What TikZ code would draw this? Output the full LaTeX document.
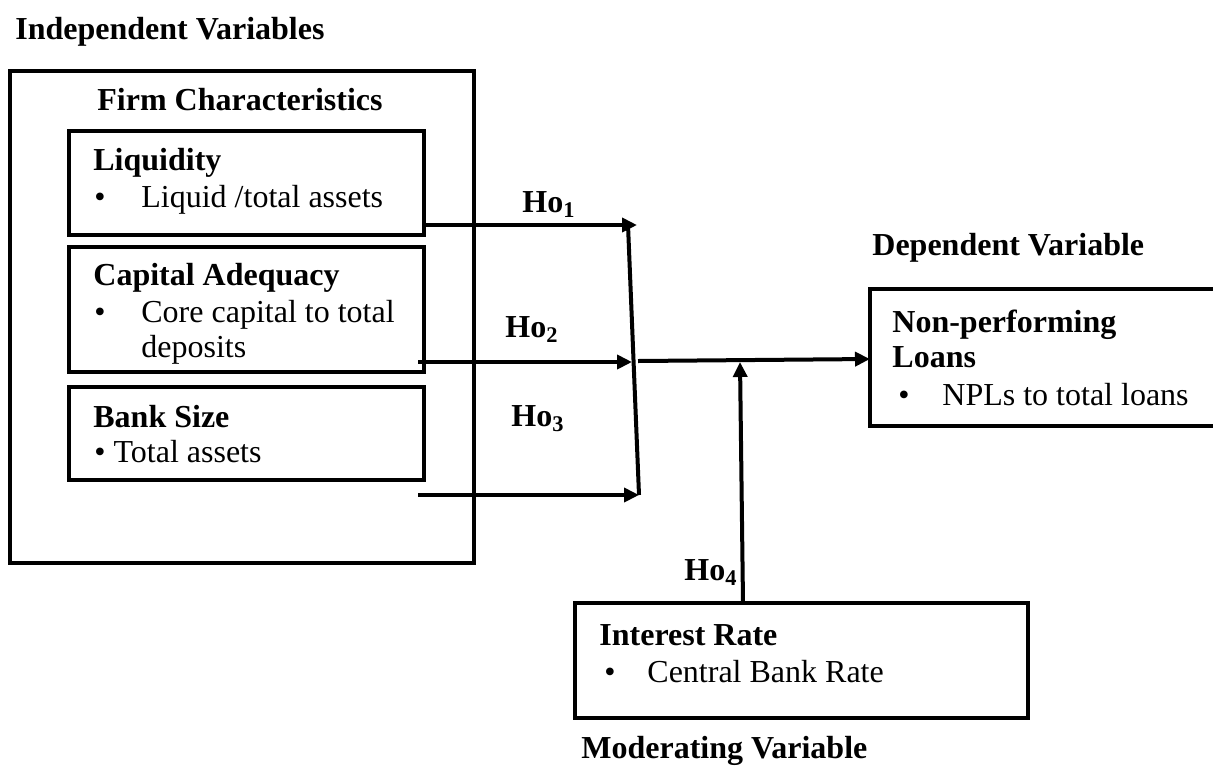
\documentclass[tikz,border=0pt]{standalone}
\usepackage{fontspec}
\setmainfont{Liberation Serif}
\usetikzlibrary{positioning,arrows.meta,calc}

\begin{document}
\begin{tikzpicture}[x=0.5pt,y=-0.5pt,
    box/.style={draw, line width=2pt, rectangle, inner sep=0pt, outer sep=0pt, anchor=north west},
    txt/.style={anchor=base west, inner sep=0pt, font=\fontsize{16}{18}\selectfont},
    head/.style={anchor=base west, inner sep=0pt, font=\fontsize{16}{18}\selectfont\bfseries},
    link/.style={line width=2pt, -{Triangle[length=7.5pt,width=7pt]}},
    ]
  \useasboundingbox (0,0) rectangle (1213,766);

  % boxes
  \node[box, minimum width=232pt, minimum height=246pt] (firm) at (10,71) {};
  \node[box, minimum width=177.5pt, minimum height=52pt] (liq) at (69,131) {};
  \node[box, minimum width=177.5pt, minimum height=62.5pt] (cap) at (69,247) {};
  \node[box, minimum width=177.5pt, minimum height=46.5pt] (size) at (69,387) {};
  \node[box, minimum width=173pt, minimum height=68.5pt] (npl) at (870,289) {};
  \node[box, minimum width=226.5pt, minimum height=57.5pt] (rate) at (575,603) {};

  % texts
  \node[head] (indep) at (15,39) {Independent Variables};
  \node[head] (firmt) at (97,110) {Firm Characteristics};
  \node[head] (liqt) at (93,170) {Liquidity};
  \node[txt] (liqb) at (94,207) {\textbullet};
  \node[txt] (liqa) at (141,207) {Liquid /total assets};
  \node[head] (capt) at (93,285) {Capital Adequacy};
  \node[txt] (capb) at (94,322) {\textbullet};
  \node[txt] (capa) at (141,322) {Core capital to total};
  \node[txt] (capc) at (141,357) {deposits};
  \node[head] (sizet) at (93,427) {Bank Size};
  \node[txt] (sizea) at (94,462) {\textbullet{} Total assets};
  \node[head] (dept) at (872,255) {Dependent Variable};
  \node[head] (nplt) at (892,332) {Non-performing};
  \node[head] (nplu) at (892,367) {Loans};
  \node[txt] (nplb) at (898,405) {\textbullet};
  \node[txt] (npla) at (942,405) {NPLs to total loans};
  \node[head] (ratet) at (599,645) {Interest Rate};
  \node[txt] (rateb) at (604,682) {\textbullet};
  \node[txt] (ratea) at (647,682) {Central Bank Rate};
  \node[head] (modt) at (581,758) {Moderating Variable};

  % hypotheses
  \node[head] (ho1) at (522,212) {Ho\textsubscript{1}};
  \node[head] (ho2) at (505,337) {Ho\textsubscript{2}};
  \node[head] (ho3) at (511,426) {Ho\textsubscript{3}};
  \node[head] (ho4) at (684,580) {Ho\textsubscript{4}};

  % junctions
  \coordinate (h1) at (637,225);
  \coordinate (h2) at (632,362);
  \coordinate (h3) at (639,495);
  \coordinate (jtop) at (628,225);
  \coordinate (jout) at (638,361);
  \coordinate (jmod) at (740,362);

  % connectors
  \draw[link] (liq.east |- h1) -- (h1);
  \draw[link, shorten <=-3pt] (cap.east |- h2) -- (h2);
  \draw[link, shorten <=-3pt] (size.east |- h3) -- (h3);
  \draw[line width=2pt] (jtop) -- (h3);
  \draw[link] (jout) -- (npl.west |- 0,359);
  \draw[link] (rate.north -| 743,0) -- (jmod);
\end{tikzpicture}
\end{document}
